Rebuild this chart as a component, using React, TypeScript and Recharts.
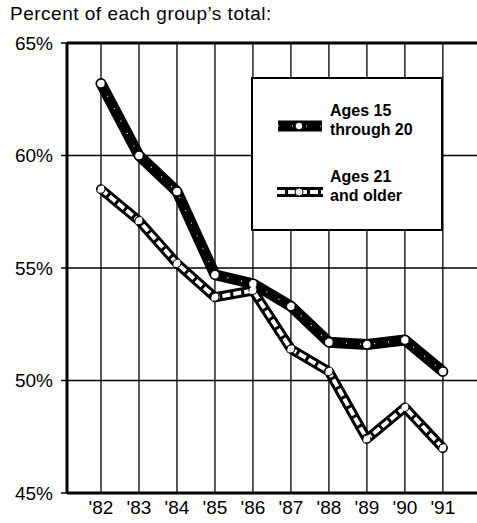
import React from 'react';
import { LineChart, Line, XAxis, YAxis, CartesianGrid, ReferenceLine } from 'recharts';

const years = ["'82", "'83", "'84", "'85", "'86", "'87", "'88", "'89", "'90", "'91"];
const youngShare = [63.2, 60.0, 58.4, 54.7, 54.3, 53.3, 51.7, 51.6, 51.8, 50.4];
const olderShare = [58.5, 57.1, 55.2, 53.7, 54.0, 51.4, 50.4, 47.4, 48.8, 47.0];
const yTicks = [45, 50, 55, 60, 65];
const seriesLabels = [
  ['Ages 15', 'through 20'],
  ['Ages 21', 'and older'],
];
const title = 'Percent of each group\u2019s total:';

const data = years.map((y, i) => ({ idx: i, year: y, young: youngShare[i], older: olderShare[i] }));
const xTicks = years.map((_, i) => i);

const FONT = '"Liberation Sans", Arial, sans-serif';

export default function App() {
  return (
    <div style={{ position: 'absolute', left: 0, top: 0, width: 477, height: 523, overflow: 'hidden', background: '#fff' }}>
      <div
        style={{
          position: 'absolute',
          left: 10,
          top: 4,
          fontFamily: FONT,
          fontSize: 19,
          lineHeight: '19px',
          letterSpacing: 0.5,
          color: '#000',
          whiteSpace: 'nowrap',
        }}
      >
        {title}
      </div>
      <LineChart width={490} height={523} data={data} margin={{ top: 43, right: 8, bottom: 0, left: 0 }}>
        <CartesianGrid stroke="#000" strokeWidth={1.3} horizontal vertical />
        <XAxis
          dataKey="idx"
          type="number"
          domain={[-0.895, 10.03]}
          ticks={xTicks}
          tickFormatter={(v) => years[v] ?? ''}
          allowDataOverflow
          height={30}
          tickLine={false}
          tickSize={0}
          tickMargin={8}
          axisLine={{ stroke: '#000', strokeWidth: 3 }}
          tick={{ fill: '#000', fontSize: 19, fontFamily: FONT }}
          interval={0}
        />
        <YAxis
          width={67}
          domain={[45, 65]}
          ticks={yTicks}
          tickFormatter={(v) => `${v}%`}
          tickSize={6}
          tickMargin={8}
          tickLine={{ stroke: '#000', strokeWidth: 1.5 }}
          axisLine={{ stroke: '#000', strokeWidth: 3 }}
          tick={{ fill: '#000', fontSize: 19, fontFamily: FONT }}
          allowDataOverflow
        />
        <ReferenceLine y={65} stroke="#000" strokeWidth={3} />
        <Line
          dataKey="older"
          type="linear"
          stroke="#000"
          strokeWidth={10}
          strokeLinejoin="round"
          strokeLinecap="round"
          dot={false}
          activeDot={false}
          isAnimationActive={false}
        />
        <Line
          dataKey="older"
          type="linear"
          stroke="#fff"
          strokeWidth={4}
          strokeDasharray="8 3"
          strokeLinejoin="round"
          dot={{ r: 4, fill: '#fff', stroke: '#000', strokeWidth: 1 }}
          activeDot={false}
          isAnimationActive={false}
        />
        <Line
          dataKey="young"
          type="linear"
          stroke="#000"
          strokeWidth={11}
          strokeLinejoin="round"
          strokeLinecap="round"
          dot={false}
          activeDot={false}
          isAnimationActive={false}
        />
        <Line
          dataKey="young"
          type="linear"
          stroke="#fff"
          strokeWidth={1.2}
          strokeDasharray="1 13"
          strokeLinejoin="round"
          dot={{ r: 3.8, fill: '#fff', stroke: '#000', strokeWidth: 1 }}
          activeDot={false}
          isAnimationActive={false}
        />
      </LineChart>
      <svg
        width={192}
        height={154}
        style={{ position: 'absolute', left: 251, top: 77 }}
      >
        <rect x={1} y={1} width={190} height={152} fill="#fff" stroke="#000" strokeWidth={2} />
        <line x1={27} y1={49} x2={71} y2={49} stroke="#000" strokeWidth={11} />
        <line x1={27} y1={49} x2={71} y2={49} stroke="#fff" strokeWidth={1.2} strokeDasharray="1 13" />
        <circle cx={48} cy={49} r={3.8} fill="#fff" stroke="#000" strokeWidth={1} />
        <line x1={26} y1={115} x2={72} y2={115} stroke="#000" strokeWidth={10} />
        <line x1={26} y1={115} x2={72} y2={115} stroke="#fff" strokeWidth={4} strokeDasharray="8 3" />
        <circle cx={48} cy={115} r={4} fill="#fff" stroke="#000" strokeWidth={1} />
        <text x={79} y={39} fontFamily={FONT} fontWeight="bold" fontSize={16} fill="#000">{seriesLabels[0][0]}</text>
        <text x={79} y={58} fontFamily={FONT} fontWeight="bold" fontSize={16} fill="#000">{seriesLabels[0][1]}</text>
        <text x={79} y={105} fontFamily={FONT} fontWeight="bold" fontSize={16} fill="#000">{seriesLabels[1][0]}</text>
        <text x={79} y={124} fontFamily={FONT} fontWeight="bold" fontSize={16} fill="#000">{seriesLabels[1][1]}</text>
      </svg>
    </div>
  );
}
